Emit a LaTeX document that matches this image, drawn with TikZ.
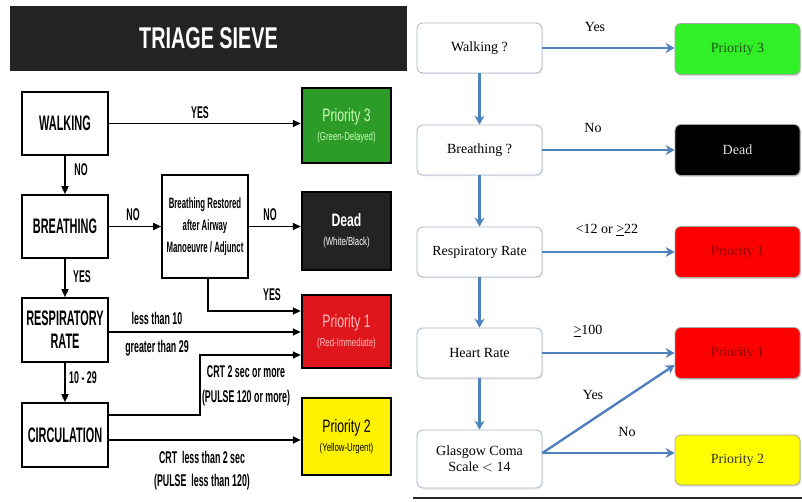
\documentclass[tikz,border=0pt]{standalone}
\usepackage{fontspec}
\usetikzlibrary{arrows.meta,shadows}
\setmainfont{Liberation Serif}
\newfontfamily\cnd[FakeStretch=0.52]{Liberation Sans}
\newfontfamily\cndm[FakeStretch=0.68]{Liberation Sans}
\newfontfamily\cndt[FakeStretch=0.66]{Liberation Sans}
\definecolor{arrblue}{RGB}{79,129,189}
\definecolor{rboxline}{RGB}{165,180,205}
\definecolor{lgreen}{RGB}{45,155,40}
\definecolor{lgreentxt}{RGB}{200,255,185}
\definecolor{ldead}{RGB}{35,35,35}
\definecolor{lred}{RGB}{222,22,28}
\definecolor{lredtxt}{RGB}{255,190,190}
\definecolor{lyellow}{RGB}{255,242,0}
\definecolor{rgreen}{RGB}{50,240,40}
\definecolor{rgreentxt}{RGB}{30,85,25}
\definecolor{rred}{RGB}{255,0,0}
\definecolor{rredtxt}{RGB}{140,0,0}
\definecolor{ryellow}{RGB}{255,255,0}
\begin{document}
\begin{tikzpicture}[x=1pt,y=-1pt,
  lbox/.style={draw=black, line width=1.6pt, fill=white, minimum width=86pt, minimum height=63pt, inner sep=0pt, align=center, font=\cnd\bfseries\fontsize{21}{23}\selectfont},
  lcol/.style={draw=black, line width=2.4pt, minimum width=89pt, inner sep=0pt, align=center, font=\cndm\fontsize{18}{20}\selectfont},
  larr/.style={line width=1.6pt, -{Triangle[length=8pt,width=7pt]}},
  llab/.style={font=\cnd\bfseries\fontsize{17}{18}\selectfont, inner sep=0pt, align=center},
  rbox/.style={draw=rboxline, line width=0.8pt, fill=white, rounded corners=6pt, minimum width=125pt, minimum height=50pt, inner sep=0pt, align=center, font=\fontsize{14}{16}\selectfont, drop shadow={opacity=0.15, shadow xshift=1pt, shadow yshift=-1.5pt}},
  rcol/.style={draw=black!35, line width=0.8pt, rounded corners=6pt, minimum width=125pt, minimum height=51pt, inner sep=0pt, align=center, font=\fontsize{14}{16}\selectfont, drop shadow={opacity=0.3, shadow xshift=1pt, shadow yshift=-1.5pt}},
  rarr/.style={draw=arrblue, line width=2.4pt, -{Stealth[length=9pt,width=10pt,inset=3pt]}},
  rlab/.style={font=\fontsize{14}{16}\selectfont, inner sep=0pt}
]
\fill[white] (0,0) rectangle (802,502);
\useasboundingbox (0,0) rectangle (802,502);

% ---------------- left: triage sieve ----------------
\node[fill=ldead, minimum width=397pt, minimum height=65pt, inner sep=0pt, text=white, font=\cndt\bfseries\fontsize{30}{30}\selectfont] (title) at (208.5,38.5) {TRIAGE SIEVE};

\node[lbox] (walk) at (65,123.5) {WALKING};
\node[lbox] (breath) at (65,226.5) {BREATHING};
\node[lbox, minimum height=64pt] (resp) at (65,330) {RESPIRATORY\\RATE};
\node[lbox, minimum height=64pt] (circ) at (65,435) {CIRCULATION};
\node[lbox, minimum height=103pt, font=\cnd\bfseries\fontsize{15}{22}\selectfont] (restored) at (205,226.5) {Breathing Restored\\after Airway\\Manoeuvre / Adjunct};

\node[lcol, fill=lgreen, text=lgreentxt, minimum height=75pt] (p3L) at (346.5,125.5) {Priority 3\\[-1pt]{\fontsize{11.5}{12}\selectfont (Green-Delayed)}};
\node[lcol, fill=ldead, text=white, minimum height=78pt] (deadL) at (346.5,231) {{\bfseries Dead}\\[-1pt]{\fontsize{11.5}{12}\selectfont (White/Black)}};
\node[lcol, fill=lred, text=lredtxt, minimum height=73pt] (p1L) at (346.5,331.5) {Priority 1\\[-1pt]{\fontsize{11.5}{12}\selectfont (Red-Immediate)}};
\node[lcol, fill=lyellow, text=black, minimum height=77pt] (p2L) at (346.5,436.5) {Priority 2\\[-1pt]{\fontsize{11.5}{12}\selectfont (Yellow-Urgent)}};

\draw[larr] (walk.east) -- (walk.east -| p3L.west);
\draw[larr] (walk.south) -- (breath.north);
\draw[larr] (breath.east) -- (restored.west);
\draw[larr] (restored.east) -- (restored.east -| deadL.west);
\draw[larr] ([xshift=3pt]restored.south) |- ([yshift=20.5pt]p1L.west);
\draw[larr] (breath.south) -- (resp.north);
\draw[larr] ([yshift=-2pt]resp.east) -- ([yshift=-2pt]resp.east -| p1L.west);
\draw[larr] (resp.south) -- (circ.north);
\coordinate (cbend) at (200,355);
\draw[larr] ([yshift=20pt]circ.east) -| (cbend) -- (cbend -| p1L.west);
\draw[larr] ([yshift=-5pt]circ.east) -- ([yshift=-5pt]circ.east -| p2L.west);

\node[llab] (lyes1) at (200,113) {YES};
\node[llab] (lno1) at (81,170) {NO};
\node[llab] (lno2) at (133,215) {NO};
\node[llab] (lno3) at (270,215) {NO};
\node[llab] (lyes2) at (272,295) {YES};
\node[llab] (lyes3) at (82,277) {YES};
\node[llab] (lless) at (157,318) {less than 10};
\node[llab] (lgreat) at (157,348) {greater than 29};
\node[llab] (lrange) at (83,378) {10 - 29};
\node[llab, font=\cnd\bfseries\fontsize{17}{25}\selectfont] (lcrt1) at (246,386) {CRT 2 sec or more\\(PULSE 120 or more)};
\node[llab, font=\cnd\bfseries\fontsize{17}{23}\selectfont] (lcrt2) at (202,471) {CRT\ \ less than 2 sec\\(PULSE\ \ less than 120)};

% ---------------- right: flowchart ----------------
\node[rbox] (walkR) at (479.5,48) {Walking ?};
\node[rbox] (breathR) at (479.5,150) {Breathing ?};
\node[rbox] (respR) at (479.5,252) {Respiratory Rate};
\node[rbox] (heartR) at (479.5,353) {Heart Rate};
\node[rbox, minimum height=58pt] (gcsR) at (479.5,459) {Glasgow Coma\\Scale $<$ 14};

\node[rcol, fill=rgreen, text=rgreentxt] (p3R) at (737.5,49) {Priority 3};
\node[rcol, fill=black, text=black!12] (deadR) at (737.5,150) {Dead};
\node[rcol, fill=rred, text=rredtxt] (p1R) at (737.5,252) {Priority 1};
\node[rcol, fill=rred, text=rredtxt] (p1Rb) at (737.5,353) {Priority 1};
\node[rcol, fill=ryellow, text=black!80, minimum height=50pt] (p2R) at (737.5,460) {Priority 2};

\draw[rarr] (walkR.east) -- (walkR.east -| p3R.west);
\draw[rarr] (breathR.east) -- (breathR.east -| deadR.west);
\draw[rarr] (respR.east) -- (respR.east -| p1R.west);
\draw[rarr] (heartR.east) -- (heartR.east -| p1Rb.west);
\draw[rarr] ([yshift=6pt]gcsR.east) -- ([yshift=-12pt]p1Rb.west);
\draw[rarr] ([yshift=6pt]gcsR.east) -- ([yshift=6pt]gcsR.east -| p2R.west);
\draw[rarr] (walkR.south) -- (breathR.north);
\draw[rarr] (breathR.south) -- (respR.north);
\draw[rarr] (respR.south) -- (heartR.north);
\draw[rarr] (heartR.south) -- (gcsR.north);

\node[rlab] (ryes1) at (595,27) {Yes};
\node[rlab] (rno1) at (593,128) {No};
\node[rlab] (rrr) at (607,230) {<12 or \underline{>}22};
\node[rlab] (rhr) at (588,331) {\underline{>}100};
\node[rlab] (ryes2) at (593,395) {Yes};
\node[rlab] (rno2) at (627,432) {No};

\coordinate (sepL) at (413,498);
\coordinate (sepR) at (802,498);
\draw[line width=2pt, black!85] (sepL) -- (sepR);
\end{tikzpicture}
\end{document}
